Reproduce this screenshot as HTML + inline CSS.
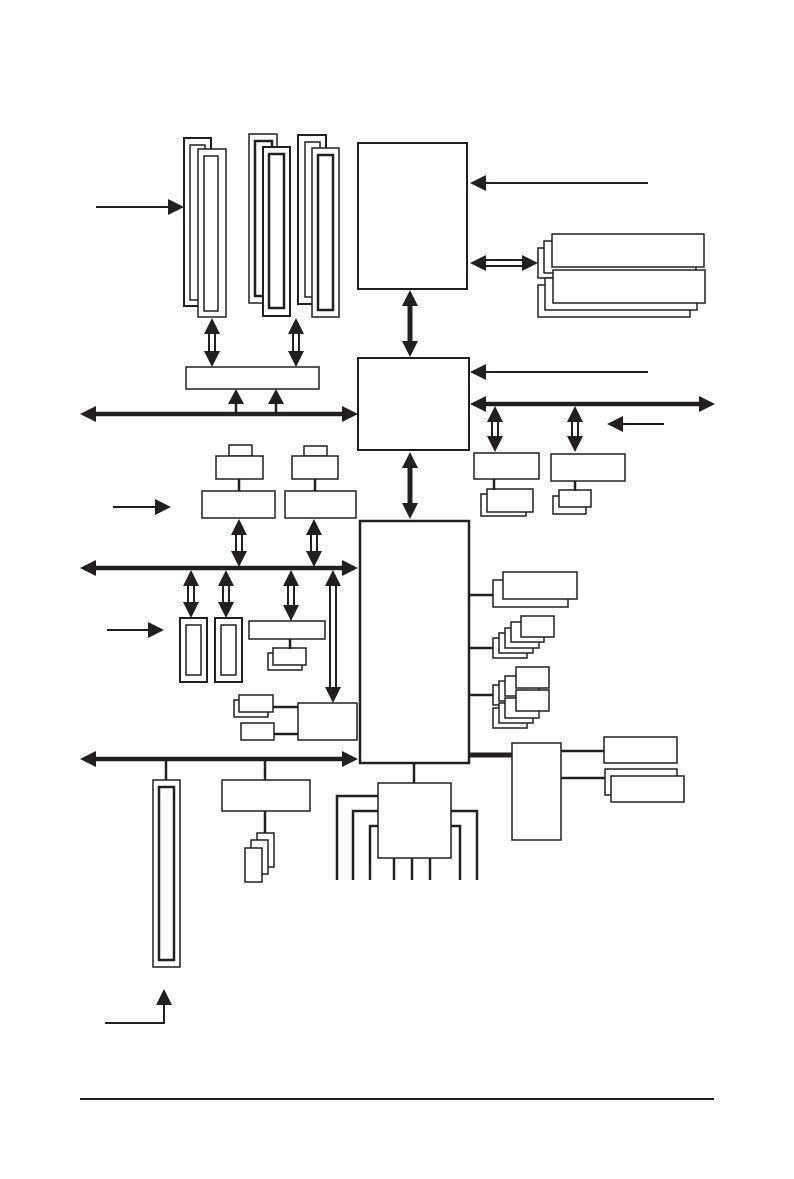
<!DOCTYPE html>
<html><head><meta charset="utf-8"><style>
html,body{margin:0;padding:0;background:#fff;}
svg{display:block;}
</style></head><body>
<svg width="794" height="1179" viewBox="0 0 794 1179" xmlns="http://www.w3.org/2000/svg">
<g fill="#fff" stroke="#231f20" stroke-width="1.5">
<!-- slot group 1 -->
<rect x="184" y="138" width="27" height="168" stroke-width="2"/>
<rect x="190" y="145" width="15" height="155"/>
<rect x="198" y="149" width="28" height="168"/>
<rect x="204" y="156" width="14" height="155"/>
<!-- slot group 2 -->
<rect x="249" y="134" width="28" height="169"/>
<rect x="255" y="141" width="17" height="155" stroke-width="2.5"/>
<rect x="263" y="147" width="27" height="169" stroke-width="2"/>
<rect x="269" y="154" width="15" height="154" stroke-width="2.5"/>
<!-- slot group 3 -->
<rect x="298" y="135" width="28" height="169" stroke-width="2"/>
<rect x="305" y="142" width="15" height="155"/>
<rect x="312" y="148" width="27" height="169"/>
<rect x="318" y="155" width="15" height="155" stroke-width="2.5"/>

<rect x="186" y="367" width="133" height="22"/>
<!-- main chips -->
<rect x="358" y="143" width="109" height="146" stroke-width="2"/>
<rect x="358" y="358" width="111" height="92" stroke-width="2"/>
<rect x="360" y="521" width="109" height="242" stroke-width="2.5"/>

<!-- memory stacks -->
<rect x="538" y="248" width="152" height="30"/>
<rect x="544" y="241" width="152" height="32"/>
<rect x="552" y="234" width="152" height="33"/>
<rect x="538" y="285" width="152" height="32"/>
<rect x="545" y="278" width="152" height="32"/>
<rect x="553" y="270" width="152" height="33"/>

<!-- right of box 2 -->
<rect x="474" y="453" width="65" height="26"/>
<rect x="481" y="494" width="45" height="22"/>
<rect x="487" y="489" width="46" height="23"/>
<rect x="551" y="454" width="74" height="27"/>
<rect x="553" y="496" width="33" height="18"/>
<rect x="559" y="490" width="32" height="17"/>

<!-- left mid -->
<rect x="229" y="445" width="23" height="11"/>
<rect x="304" y="446" width="23" height="10"/>
<rect x="216" y="456" width="47" height="23"/>
<rect x="292" y="456" width="46" height="23"/>
<rect x="202" y="491" width="73" height="27"/>
<rect x="285" y="491" width="71" height="27"/>

<rect x="180" y="618" width="27" height="64" stroke-width="2"/>
<rect x="186" y="625" width="15" height="50"/>
<rect x="215" y="618" width="27" height="64" stroke-width="2"/>
<rect x="221" y="625" width="15" height="50"/>
<rect x="249" y="621" width="76" height="18"/>
<rect x="268" y="653" width="34" height="17"/>
<rect x="273" y="648" width="33" height="17"/>
<rect x="298" y="703" width="59" height="37"/>
<rect x="234" y="700" width="34" height="17"/>
<rect x="239" y="695" width="34" height="17"/>
<rect x="241" y="723" width="33" height="17"/>

<!-- bottom left -->
<rect x="153" y="780" width="27" height="187" stroke-width="1.5"/>
<rect x="159" y="787" width="15" height="173" stroke-width="2.5"/>
<rect x="222" y="780" width="88" height="31"/>
<rect x="257" y="833" width="17" height="34"/>
<rect x="251" y="840" width="17" height="34"/>
<rect x="245" y="848" width="17" height="34"/>

<!-- right of big chip -->
<rect x="493" y="580" width="75" height="27"/>
<rect x="503" y="572" width="74" height="27"/>
<rect x="493" y="638" width="34" height="20"/>
<rect x="499" y="633" width="34" height="20"/>
<rect x="505" y="628" width="34" height="20"/>
<rect x="511" y="622" width="33" height="20"/>
<rect x="521" y="616" width="33" height="21"/>
<rect x="493" y="685" width="34" height="20"/>
<rect x="499" y="681" width="34" height="20"/>
<rect x="505" y="676" width="34" height="20"/>
<rect x="516" y="667" width="33" height="21"/>
<rect x="493" y="708" width="34" height="20"/>
<rect x="499" y="703" width="34" height="20"/>
<rect x="505" y="698" width="34" height="20"/>
<rect x="516" y="690" width="33" height="21"/>
<rect x="512" y="743" width="49" height="97"/>
<rect x="604" y="737" width="73" height="26"/>
<rect x="605" y="769" width="72" height="26"/>
<rect x="611" y="776" width="73" height="26"/>
<rect x="378" y="783" width="73" height="75"/>
</g>

<g stroke="#231f20" fill="none">
<!-- thin arrows -->
<line x1="96" y1="207" x2="170" y2="207" stroke-width="2"/>
<line x1="648" y1="183" x2="482" y2="183" stroke-width="2"/>
<line x1="648" y1="372" x2="482" y2="372" stroke-width="2"/>
<line x1="664" y1="424" x2="620" y2="424" stroke-width="2"/>
<line x1="113" y1="507" x2="158" y2="507" stroke-width="2"/>
<line x1="107" y1="630" x2="152" y2="630" stroke-width="2"/>
<polyline points="105,1023 164,1023 164,1000" stroke-width="2"/>
<!-- buses -->
<line x1="92" y1="414" x2="346" y2="414" stroke-width="4.5"/>
<line x1="92" y1="568" x2="346" y2="568" stroke-width="4.5"/>
<line x1="92" y1="759" x2="346" y2="759" stroke-width="4.5"/>
<line x1="482" y1="404" x2="702" y2="404" stroke-width="4.5"/>
<line x1="410" y1="300" x2="410" y2="346" stroke-width="5"/>
<line x1="410" y1="462" x2="410" y2="507" stroke-width="5"/>
<line x1="236" y1="414" x2="236" y2="400" stroke-width="2.5"/>
<line x1="276" y1="414" x2="276" y2="400" stroke-width="2.5"/>
<!-- double-line shafts -->
<g stroke-width="2">
<line x1="209" y1="330" x2="209" y2="355"/><line x1="215" y1="330" x2="215" y2="355"/>
<line x1="293" y1="330" x2="293" y2="355"/><line x1="299" y1="330" x2="299" y2="355"/>
<line x1="482" y1="260" x2="526" y2="260"/><line x1="482" y1="266" x2="526" y2="266"/>
<line x1="492" y1="418" x2="492" y2="440"/><line x1="498" y1="418" x2="498" y2="440"/>
<line x1="572" y1="418" x2="572" y2="440"/><line x1="578" y1="418" x2="578" y2="440"/>
<line x1="236" y1="532" x2="236" y2="555"/><line x1="242" y1="532" x2="242" y2="555"/>
<line x1="311" y1="532" x2="311" y2="555"/><line x1="317" y1="532" x2="317" y2="555"/>
<line x1="188" y1="582" x2="188" y2="605"/><line x1="194" y1="582" x2="194" y2="605"/>
<line x1="223" y1="582" x2="223" y2="605"/><line x1="229" y1="582" x2="229" y2="605"/>
<line x1="288" y1="582" x2="288" y2="608"/><line x1="294" y1="582" x2="294" y2="608"/>
<line x1="330" y1="582" x2="330" y2="690"/><line x1="336" y1="582" x2="336" y2="690"/>
</g>
<!-- connectors -->
<g stroke-width="2.5">
<line x1="494" y1="479" x2="494" y2="490"/>
<line x1="575" y1="481" x2="575" y2="491"/>
<line x1="239" y1="479" x2="239" y2="491"/>
<line x1="315" y1="479" x2="315" y2="491"/>
<line x1="290" y1="639" x2="290" y2="649"/>
<line x1="273" y1="707" x2="298" y2="707"/>
<line x1="274" y1="734" x2="298" y2="734"/>
<line x1="166" y1="759" x2="166" y2="780"/>
<line x1="265" y1="759" x2="265" y2="780"/>
<line x1="265" y1="811" x2="265" y2="833"/>
<line x1="469" y1="595" x2="493" y2="595"/>
<line x1="469" y1="648" x2="493" y2="648"/>
<line x1="469" y1="695" x2="493" y2="695"/>
<line x1="561" y1="751" x2="604" y2="751"/>
<line x1="561" y1="778" x2="605" y2="778"/>
<line x1="414" y1="763" x2="414" y2="783"/>
<polyline points="337,880 337,796 378,796"/>
<polyline points="353,880 353,811 378,811"/>
<polyline points="370,880 370,826 378,826"/>
<polyline points="477,880 477,811 451,811"/>
<polyline points="460,880 460,826 451,826"/>
<line x1="394" y1="858" x2="394" y2="880"/>
<line x1="412" y1="858" x2="412" y2="880"/>
<line x1="430" y1="858" x2="430" y2="880"/>
</g>
<line x1="469" y1="755" x2="512" y2="755" stroke-width="5"/>
<line x1="80" y1="1099" x2="714" y2="1099" stroke-width="2"/>
</g>

<g fill="#231f20">
<!-- right arrows -->
<polygon points="184,207 168,199 168,215"/>
<polygon points="171,507 155,499 155,515"/>
<polygon points="164,630 148,622 148,638"/>
<polygon points="358,414 342,406 342,422"/>
<polygon points="358,568 342,560 342,576"/>
<polygon points="358,759 342,751 342,767"/>
<polygon points="715,404 699,396 699,412"/>
<polygon points="538,263 522,255 522,271"/>
<!-- left arrows -->
<polygon points="470,183 486,175 486,191"/>
<polygon points="470,372 486,364 486,380"/>
<polygon points="607,424 623,416 623,432"/>
<polygon points="80,414 96,406 96,422"/>
<polygon points="80,568 96,560 96,576"/>
<polygon points="80,759 96,751 96,767"/>
<polygon points="470,404 486,396 486,412"/>
<polygon points="470,263 486,255 486,271"/>
<!-- up arrows -->
<polygon points="212,318 204,334 220,334"/>
<polygon points="296,318 288,334 304,334"/>
<polygon points="236,389 228,404 244,404"/>
<polygon points="276,389 268,404 284,404"/>
<polygon points="410,290 402,306 418,306"/>
<polygon points="410,452 402,468 418,468"/>
<polygon points="495,406 487,422 503,422"/>
<polygon points="575,406 567,422 583,422"/>
<polygon points="239,519 231,535 247,535"/>
<polygon points="314,519 306,535 322,535"/>
<polygon points="191,570 183,586 199,586"/>
<polygon points="226,570 218,586 234,586"/>
<polygon points="291,570 283,586 299,586"/>
<polygon points="333,570 325,586 341,586"/>
<polygon points="164,989 156,1005 172,1005"/>
<!-- down arrows -->
<polygon points="212,367 204,351 220,351"/>
<polygon points="296,367 288,351 304,351"/>
<polygon points="410,357 402,341 418,341"/>
<polygon points="410,519 402,503 418,503"/>
<polygon points="495,452 487,436 503,436"/>
<polygon points="575,452 567,436 583,436"/>
<polygon points="239,567 231,551 247,551"/>
<polygon points="314,567 306,551 322,551"/>
<polygon points="191,618 183,602 199,602"/>
<polygon points="226,618 218,602 234,602"/>
<polygon points="291,621 283,605 299,605"/>
<polygon points="333,703 325,687 341,687"/>
</g>
</svg>
</body></html>
